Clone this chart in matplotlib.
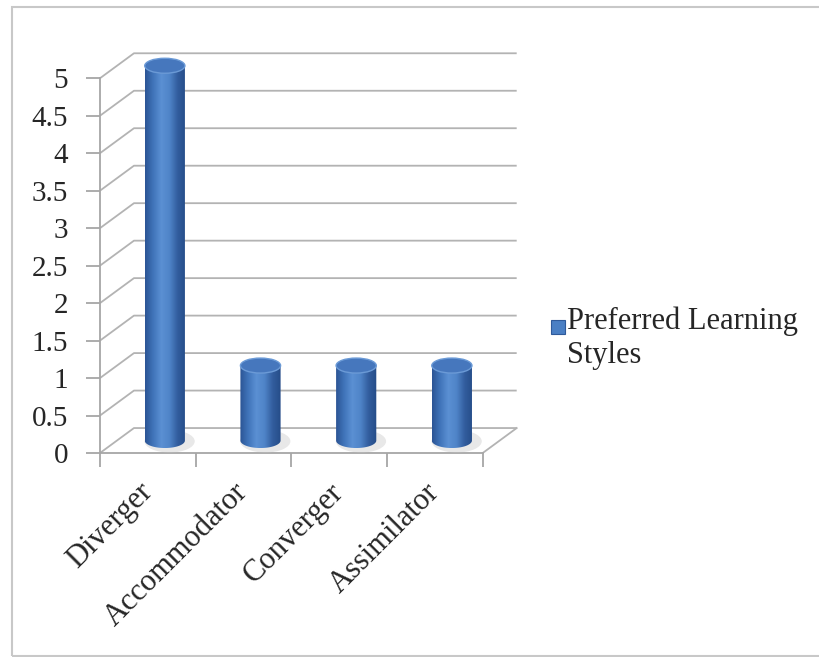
import numpy as np
import matplotlib
matplotlib.use('Agg')
import matplotlib.pyplot as plt
from matplotlib.patches import Polygon, Ellipse, Rectangle
from matplotlib.colors import LinearSegmentedColormap

plt.rcParams['font.family'] = ['Liberation Serif', 'DejaVu Serif']

# data
categories = ['Diverger', 'Accommodator', 'Converger', 'Assimilator']
values = [5, 1, 1, 1]
series_name = 'Preferred Learning\nStyles'
y_ticks = [0, 0.5, 1, 1.5, 2, 2.5, 3, 3.5, 4, 4.5, 5]
y_tick_labels = ['0', '0.5', '1', '1.5', '2', '2.5', '3', '3.5', '4', '4.5', '5']

# depth of the fake 3d box (in data units)
DX = 0.355
DY = 0.333
grid_c = '#b3b3b3'
cyl_cmap = LinearSegmentedColormap.from_list(
    'cyl', ['#2b5494', '#4074ba', '#5b90d3', '#4f84c8', '#325d9e', '#254c88'])

fig = plt.figure(figsize=(8.19, 6.57), dpi=100)
ax = fig.add_axes([100 / 819, (657 - 453) / 657, 421 / 819, 401 / 657])

# walls: left side diagonals + back gridlines
for v in y_ticks:
    ax.plot([0, DX, len(categories) + DX], [v, v + DY, v + DY],
            color=grid_c, lw=1.3, zorder=1, solid_capstyle='butt')
# floor right edge
ax.plot([len(categories), len(categories) + DX], [0, DY], color=grid_c, lw=1.3, zorder=1)

# cylinders
hw = 0.21   # half width
eh = 0.1    # half height of the ellipses
t = np.linspace(0, -np.pi, 60)
grad = np.linspace(0, 1, 256).reshape(1, -1)
for i, v in enumerate(values):
    cx = i + 0.5 + DX / 2
    base = DY / 2
    # soft shadow
    ax.add_patch(Ellipse((cx + 0.05, base - 0.01), 2 * hw * 1.25, 2 * eh * 1.5,
                         facecolor='#cccccc', edgecolor='none', alpha=0.45, zorder=2))
    pts = [(cx - hw, base), (cx - hw, base + v), (cx + hw, base + v), (cx + hw, base)]
    pts += list(zip(cx + hw * np.cos(t), base + eh * np.sin(t)))
    body = Polygon(pts, closed=True, facecolor='none', edgecolor='none', zorder=3)
    ax.add_patch(body)
    im = ax.imshow(grad, extent=[cx - hw, cx + hw, base - eh, base + v],
                   aspect='auto', cmap=cyl_cmap, zorder=3, interpolation='bilinear')
    im.set_clip_path(body)
    ax.add_patch(Ellipse((cx, base + v), 2 * hw, 2 * eh, facecolor='#4677bd',
                         edgecolor='#6b9ad6', lw=1.0, zorder=4))

ax.set_xlim(0, 4.4)
ax.set_ylim(0, 5.35)

# axes
for s in ['top', 'right']:
    ax.spines[s].set_visible(False)
ax.spines['left'].set_bounds(0, 5)
ax.spines['bottom'].set_bounds(0, 4)
for s in ['left', 'bottom']:
    ax.spines[s].set_color('#a6a6a6')
    ax.spines[s].set_linewidth(1.3)
    ax.spines[s].set_zorder(1)

ax.set_yticks(y_ticks)
ax.set_yticklabels(y_tick_labels, fontsize=21, color='#262626')
ax.tick_params(axis='y', length=10, width=1.3, color='#a6a6a6', pad=13)

ax.set_xticks(range(len(categories) + 1))
ax.set_xticklabels([])
ax.set_xticks([i + 0.5 for i in range(len(categories))], minor=True)
ax.set_xticklabels(categories, minor=True, fontsize=22, color='#262626',
                   rotation=45, ha='right', va='center', rotation_mode='anchor')
ax.tick_params(axis='x', which='major', length=10, width=1.3, color='#a6a6a6')
ax.tick_params(axis='x', which='minor', length=0, pad=25)

# legend
fig.patches.append(Rectangle((551 / 819, 1 - 334 / 657), 14 / 819, 14 / 657,
                             transform=fig.transFigure, facecolor='#4a7fc4',
                             edgecolor='#2f5a9a', lw=0.8))
fig.text(567 / 819, 1 - 306 / 657, series_name, fontsize=22, color='#262626',
         va='top', ha='left', linespacing=1.25)

# chart border
fig.patches.append(Rectangle((12 / 819, 1 / 657), 820 / 819, 1 - 8 / 657,
                             transform=fig.transFigure, facecolor='none',
                             edgecolor='#c8c8c8', lw=1.5))

fig.savefig('out.png', dpi=100)
